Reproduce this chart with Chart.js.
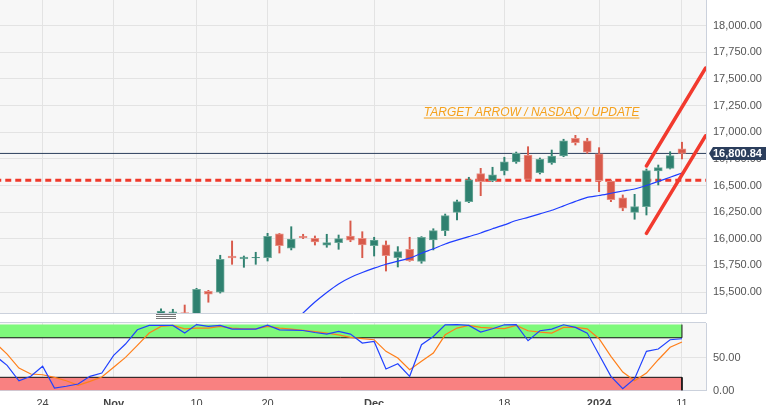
<!DOCTYPE html>
<html>
<head>
<meta charset="utf-8">
<title>NASDAQ 100 - daily</title>
<script src="https://cdn.jsdelivr.net/npm/chart.js@4.4.1/dist/chart.umd.min.js"></script>
<style>
  body { margin: 0; background: #fff; }
  #wrap { position: relative; width: 767px; height: 405px; overflow: hidden; }
  canvas { position: absolute; left: 0; }
  #priceChart { top: 0; }
  #stochChart { top: 316px; }
  .grip { position: absolute; left: 156px; top: 314px; width: 20px; height: 3px;
          border-top: 1px solid #777; border-bottom: 1px solid #777; z-index: 2; }
  .grip::after { content: ''; position: absolute; left: 0; right: 0; top: 1px; border-top: 1px solid #777; }
</style>
</head>
<body>
<div id="wrap">
  <canvas id="priceChart" width="767" height="316"></canvas>
  <canvas id="stochChart" width="767" height="89"></canvas>
  <div class="grip"></div>
</div>
<script>
// x axis: one slot per trading day, index 0 = first day in view
const tickIdx = [4, 10, 17, 23, 32, 43, 51, 58];
const tickText = ['24', 'Nov', '10', '20', 'Dec', '18', '2024', '11'];
const boldTicks = ['Nov', 'Dec', '2024'];
const priceTicks = [15500, 15750, 16000, 16250, 16500, 16750, 17000, 17250, 17500, 17750, 18000];
const stochTicks = [0, 50];

// daily candles (null = below the visible price range)
const opens = [null, null, null, null, null, null, null, null, null, null, null, null, null, null,
  15290, 15295, 15306, 15290, 15507, 15498, 15838, 15810, 15819, 15822, 16045, 15911, 16023, 16004, 15939,
  15963, 16026, 16004, 15935, 15944, 15822, 15901, 15788, 15988, 16076, 16248, 16348, 16611, 16545, 16636,
  16721, 16786, 16620, 16711, 16777, 16943, 16918, 16796, 16542, 16385, 16248, 16301, 16636, 16661, 16843];
const highs = [null, null, null, null, null, null, null, null, null, null, null, null, null, null,
  15341, 15338, 15378, 15535, 15516, 15845, 15979, 15838, 15873, 16051, 16050, 16113, 16042, 16026, 16042,
  16035, 16167, 16066, 16014, 15979, 15926, 16014, 16020, 16094, 16232, 16364, 16577, 16661, 16671, 16765,
  16814, 16864, 16758, 16833, 16934, 16971, 16943, 16855, 16549, 16411, 16417, 16655, 16692, 16817, 16906];
const lows = [null, null, null, null, null, null, null, null, null, null, null, null, null, null,
  15270, 15280, 15260, 15275, 15404, 15490, 15760, 15732, 15760, 15791, 15866, 15895, 16001, 15941, 15920,
  15901, 15972, 15822, 15838, 15697, 15735, 15788, 15770, 15895, 16029, 16176, 16339, 16404, 16536, 16599,
  16708, 16552, 16608, 16699, 16770, 16880, 16802, 16442, 16348, 16263, 16183, 16223, 16505, 16655, 16749];
const closes = [null, null, null, null, null, null, null, null, null, null, null, null, null, null,
  15322, 15315, 15280, 15526, 15479, 15807, 15819, 15829, 15826, 16023, 15935, 15998, 16010, 15970, 15963,
  16001, 15986, 15941, 15988, 15841, 15879, 15794, 16014, 16076, 16217, 16348, 16552, 16536, 16599, 16723,
  16802, 16558, 16746, 16777, 16918, 16902, 16812, 16545, 16367, 16286, 16301, 16639, 16667, 16780, 16800.84];

// moving average
const movingAvg = [null, null, null, null, null, null, null, null, null, null, null, null, null, null, null,
  null, null, null, null, null, null, null, null, null, null,
  15190, 15303, 15406, 15496, 15576, 15636, 15683, 15724, 15761, 15790, 15818, 15864, 15906, 15951, 15987,
  16020, 16054, 16094, 16130, 16171, 16201, 16234, 16267, 16309, 16351, 16389, 16406, 16427, 16448, 16467,
  16500, 16538, 16577, 16617];

// stochastic %K and %D
const stochK = [52.6, 38.2, 14.8, 21.5, 36.7, 3.8, 6.4, 9.8, 21.5, 26.5,
  53.3, 70.5, 92.1, 98.8, 98.8, 98.8, 87.1, 100, 97.3, 98.8,
  93.2, 93.2, 93.2, 99.2, 92, 91.7, 91, 88, 85.6, 89.7,
  85.6, 72, 74.5, 32.6, 40.6, 21.5, 69.4, 82, 99.7, 100,
  98.8, 88.6, 93.6, 99.7, 100, 75.5, 90.6, 93.2, 99.7, 95.8,
  87.1, 54.2, 21.5, 2.7, 17.9, 59.4, 62.9, 77, 78.5];
const stochD = [72, 55.3, 34.1, 25, 23.9, 20, 14.8, 7.9, 13.9, 20.5,
  35.2, 50.3, 68.5, 87.1, 97.3, 98.8, 93.6, 94.7, 94.7, 97.3,
  94.7, 93.6, 93.6, 97.3, 94.7, 93.2, 91.2, 89.4, 87.1, 84.5,
  80.6, 78.8, 77, 59.4, 49.2, 31.5, 44.2, 56.8, 84.5, 94.7,
  98.8, 95.8, 94.7, 94, 98.8, 90.6, 88.6, 87.1, 95.8, 95.8,
  93.6, 78.5, 51.8, 28, 14.8, 26.5, 46.7, 65.5, 73.5];
const overbought = 80;
const oversold = 20;
const stochTop = 100;

// drawings on the price pane
const supportLevel = 16550;
const upperTrend = [{ x: 55.0, y: 16683 }, { x: 60.0, y: 17603 }];
const lowerTrend = [{ x: 55.0, y: 16051 }, { x: 60.0, y: 16967 }];
const noteText = 'TARGET ARROW / NASDAQ / UPDATE';
const noteAt = { x: 45.3, y: 17152 };

const lastIdx = closes.length - 1;
const lastClose = closes[lastIdx];
const xMin = 0.4, xMax = 60.03;

const GREEN = '#2f8170', RED = '#d85a4b';
const gridColor = '#e3e3e3';
const frameColor = '#cbd1dc';
const fontFam = '"Liberation Sans", Arial, sans-serif';

const pts = (arr) => arr.map((v, i) => ({ x: i, y: v }));
const isUp = (i) => closes[i] >= opens[i];
const noPad = (s) => { s.paddingTop = 0; s.paddingBottom = 0; s.paddingLeft = 0; s.paddingRight = 0; };

const paneBg = {
  id: 'paneBg',
  beforeDraw(chart) {
    const { ctx, chartArea: a } = chart;
    ctx.save();
    ctx.fillStyle = '#f7f7f7';
    ctx.fillRect(a.left, a.top, a.right - a.left, a.bottom - a.top);
    ctx.restore();
  }
};

const priceTag = {
  id: 'priceTag',
  afterDraw(chart) {
    const { ctx, chartArea } = chart;
    const y = Math.round(chart.scales.y.getPixelForValue(lastClose)) + 0.5;
    const x0 = chartArea.right + 3;
    ctx.save();
    ctx.fillStyle = '#2b3e5c';
    ctx.beginPath();
    ctx.moveTo(x0, y);
    ctx.lineTo(x0 + 4, y - 6.5);
    ctx.lineTo(766, y - 6.5);
    ctx.lineTo(766, y + 6.5);
    ctx.lineTo(x0 + 4, y + 6.5);
    ctx.closePath();
    ctx.fill();
    ctx.fillStyle = '#fff';
    ctx.font = 'bold 11px ' + fontFam;
    ctx.textBaseline = 'middle';
    ctx.fillText(lastClose.toLocaleString('en-US', { minimumFractionDigits: 2 }), x0 + 4, y + 0.5);
    ctx.restore();
  }
};

const notePlugin = {
  id: 'note',
  afterDatasetsDraw(chart) {
    const { ctx, scales: { x, y } } = chart;
    const cx = x.getPixelForValue(noteAt.x);
    const by = y.getPixelForValue(noteAt.y);
    ctx.save();
    ctx.font = 'italic 12px ' + fontFam;
    ctx.fillStyle = '#f5a11d';
    ctx.textAlign = 'center';
    ctx.fillText(noteText, cx, by);
    const w = ctx.measureText(noteText).width;
    ctx.fillRect(cx - w / 2, by + 1.5, w, 1);
    ctx.restore();
  }
};

const topFrame = {
  id: 'topFrame',
  afterDraw(chart) {
    const { ctx, chartArea: a } = chart;
    ctx.save();
    ctx.strokeStyle = frameColor;
    ctx.lineWidth = 1;
    ctx.beginPath();
    ctx.moveTo(a.left, Math.round(a.top) - 0.5);
    ctx.lineTo(a.right, Math.round(a.top) - 0.5);
    ctx.stroke();
    ctx.restore();
  }
};

const xScaleBase = {
  type: 'linear',
  min: xMin,
  max: xMax,
  offset: false,
  afterBuildTicks: (s) => { s.ticks = tickIdx.map(v => ({ value: v })); },
  grid: { color: gridColor, drawTicks: false, offset: false },
  border: { display: true, color: frameColor }
};

// price pane
new Chart(document.getElementById('priceChart'), {
  type: 'bar',
  data: {
    datasets: [
      {
        type: 'line', order: 6, clip: 0,
        data: [{ x: 0, y: lastClose }, { x: lastIdx + 3, y: lastClose }],
        borderColor: '#2b3e5c', borderWidth: 1, pointRadius: 0
      },
      {
        type: 'line', order: 6, clip: 0,
        data: [{ x: 0, y: supportLevel }, { x: lastIdx + 3, y: supportLevel }],
        borderColor: '#f0392b', borderWidth: 3, borderDash: [6, 4], pointRadius: 0
      },
      {
        order: 5, clip: 0, grouped: false,
        data: highs.map((h, i) => ({ x: i, y: h === null ? null : [lows[i], h] })),
        backgroundColor: highs.map((h, i) => isUp(i) ? GREEN : RED),
        barThickness: 1.3
      },
      {
        order: 4, clip: 0, grouped: false,
        data: opens.map((o, i) => ({ x: i, y: o === null ? null : [o, closes[i]] })),
        backgroundColor: opens.map((o, i) => isUp(i) ? GREEN : RED),
        borderColor: opens.map((o, i) => isUp(i) ? '#6aa898' : '#e99085'),
        borderWidth: 1, borderSkipped: false,
        barThickness: 8
      },
      {
        type: 'line', order: 2, clip: 0,
        data: pts(movingAvg),
        borderColor: '#1f3dff', borderWidth: 1.2, pointRadius: 0, tension: 0.2
      },
      {
        type: 'line', order: 1, clip: 0,
        data: upperTrend,
        borderColor: '#f23a2e', borderWidth: 3.5, pointRadius: 0, borderCapStyle: 'round'
      },
      {
        type: 'line', order: 1, clip: 0,
        data: lowerTrend,
        borderColor: '#f23a2e', borderWidth: 3.5, pointRadius: 0, borderCapStyle: 'round'
      }
    ]
  },
  options: {
    responsive: false,
    animation: false,
    layout: { padding: { top: 0, left: 0, right: 0, bottom: 3 } },
    plugins: { legend: { display: false }, tooltip: { enabled: false } },
    scales: {
      x: Object.assign({}, xScaleBase, {
        ticks: { display: false },
        afterFit: (s) => { noPad(s); s.height = 0; }
      }),
      y: {
        position: 'right',
        min: 15303,
        max: 18241,
        afterBuildTicks: (s) => { s.ticks = priceTicks.map(v => ({ value: v })); },
        afterFit: (s) => { noPad(s); s.width = 61; },
        grid: { color: gridColor, drawTicks: false },
        border: { display: true, color: frameColor },
        ticks: {
          padding: 7,
          color: '#555',
          font: { family: fontFam, size: 11 },
          callback: (v) => v.toLocaleString('en-US', { minimumFractionDigits: 2 })
        }
      }
    }
  },
  plugins: [paneBg, notePlugin, priceTag]
});

// stochastic pane
new Chart(document.getElementById('stochChart'), {
  type: 'line',
  data: {
    datasets: [
      {
        order: 8, clip: 0,
        data: [{ x: 0, y: stochTop }, { x: lastIdx, y: stochTop }],
        borderWidth: 0, pointRadius: 0, backgroundColor: '#7ef97b', fill: { value: overbought }
      },
      {
        order: 8, clip: 0,
        data: [{ x: 0, y: oversold }, { x: lastIdx, y: oversold }],
        borderWidth: 0, pointRadius: 0, backgroundColor: '#f98181', fill: { value: 0 }
      },
      {
        order: 7, clip: 0,
        data: [{ x: 0, y: overbought }, { x: lastIdx, y: overbought }, { x: lastIdx, y: stochTop }],
        borderColor: '#111', borderWidth: 1, pointRadius: 0, fill: false
      },
      {
        order: 7, clip: 0,
        data: [{ x: 0, y: oversold }, { x: lastIdx, y: oversold }, { x: lastIdx, y: 0 }],
        borderColor: '#111', borderWidth: 1, pointRadius: 0, fill: false
      },
      {
        order: 2, clip: 0,
        data: pts(stochD),
        borderColor: '#ff7f1a', borderWidth: 1.2, pointRadius: 0, fill: false
      },
      {
        order: 1, clip: 0,
        data: pts(stochK),
        borderColor: '#2142ff', borderWidth: 1.2, pointRadius: 0, fill: false
      }
    ]
  },
  options: {
    responsive: false,
    animation: false,
    layout: { padding: { top: 7, left: 0, right: 0, bottom: 0 } },
    plugins: { legend: { display: false }, tooltip: { enabled: false } },
    scales: {
      x: Object.assign({}, xScaleBase, {
        afterFit: (s) => { noPad(s); s.height = 14.5; },
        ticks: {
          autoSkip: false,
          maxRotation: 0,
          padding: 7,
          color: '#444',
          font: (ctx) => {
            const label = ctx.tick ? tickText[tickIdx.indexOf(ctx.tick.value)] : '';
            return { family: fontFam, size: 11, weight: boldTicks.includes(label) ? 'bold' : 'normal' };
          },
          callback: (v) => tickText[tickIdx.indexOf(v)]
        }
      }),
      y: {
        position: 'right',
        min: 0,
        max: 102.4,
        afterBuildTicks: (s) => { s.ticks = stochTicks.map(v => ({ value: v })); },
        afterFit: (s) => { noPad(s); s.width = 61; },
        grid: { color: gridColor, drawTicks: false },
        border: { display: true, color: frameColor },
        ticks: {
          padding: 7,
          color: '#555',
          font: { family: fontFam, size: 11 },
          callback: (v) => v.toFixed(2)
        }
      }
    }
  },
  plugins: [paneBg, topFrame]
});
</script>
</body>
</html>
